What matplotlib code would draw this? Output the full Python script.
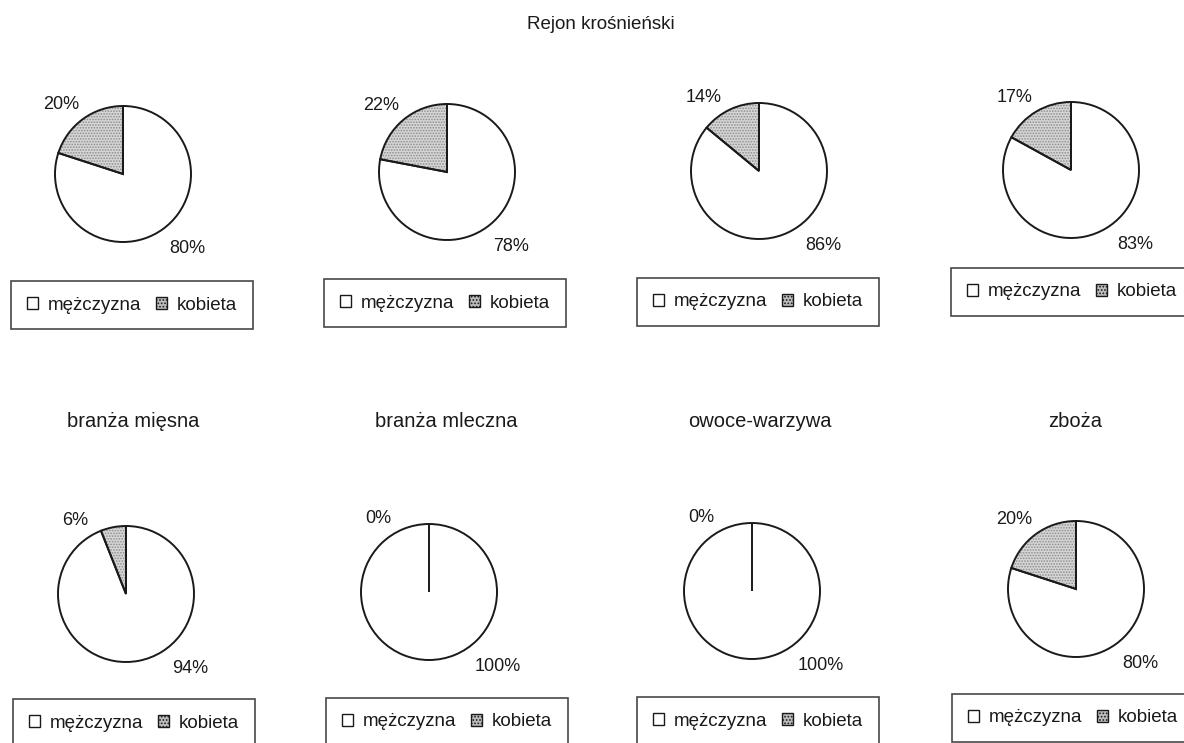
import numpy as np
import matplotlib
matplotlib.use("Agg")
import matplotlib.pyplot as plt
from matplotlib.patches import Patch

plt.rcParams['font.family'] = ['Liberation Sans', 'DejaVu Sans']
plt.rcParams['hatch.linewidth'] = 0.8

# data read from the scanned page
title = "Rejon krośnieński"
categories = ["branża mięsna", "branża mleczna", "owoce-warzywa", "zboża"]
series = ["mężczyzna", "kobieta"]
kobieta_top = [20, 22, 14, 17]
mezczyzna_top = [80, 78, 86, 83]
kobieta_bottom = [6, 0, 0, 20]
mezczyzna_bottom = [94, 100, 100, 80]

W, H = 1184, 743
R = 68
fig = plt.figure(figsize=(W / 100, H / 100), dpi=100)
fig.patch.set_facecolor('white')

# pixel layout of the page
top_centers = [(123, 174), (447, 172), (759, 171), (1071, 170)]
bot_centers = [(126, 594), (429, 592), (752, 591), (1076, 589)]
top_legends = [(132, 305), (445, 303), (758, 302), (1072, 292)]
bot_legends = [(134, 723), (447, 722), (758, 721), (1073, 718)]
title_x = [133, 446, 760, 1075]

ink = '#1a1a1a'
gray = '#d6d6d6'


def draw_pie(center, kob, mez):
    cx, cy = center
    ax = fig.add_axes([(cx - R) / W, (H - cy - R) / H, 2 * R / W, 2 * R / H])
    vals = [kob, mez]
    # dotted grey fill
    ax.pie(vals, colors=[gray, 'white'], startangle=90, counterclock=True,
           hatch=['......', None],
           wedgeprops=dict(edgecolor='#8c8c8c', linewidth=0))
    # outline
    ax.pie(vals, colors=['none', 'none'], startangle=90, counterclock=True,
           wedgeprops=dict(edgecolor=ink, linewidth=1.4))
    ax.set_xlim(-1, 1)
    ax.set_ylim(-1, 1)
    ax.axis('off')

    # labels placed like the spreadsheet did it
    mid_k = 90 + kob * 3.6 / 2
    a = np.radians(max(mid_k, 120))
    ax.text(1.1 * np.cos(a), 1.1 * np.sin(a), f"{kob}%", ha='right',
            va='bottom', fontsize=13, color=ink)
    a = np.radians(-55)
    ax.text(1.18 * np.cos(a), 1.18 * np.sin(a), f"{mez}%", ha='left',
            va='top', fontsize=13, color=ink)


def draw_legend(pos):
    x, y = pos
    handles = [Patch(facecolor='white', edgecolor=ink, linewidth=1.0),
               Patch(facecolor='#bdbdbd', edgecolor=ink, linewidth=1.0,
                     hatch='.....')]
    leg = fig.legend(handles, series, loc='center', ncol=2,
                     bbox_to_anchor=(x / W, 1 - y / H), fontsize=13.5,
                     frameon=True, fancybox=False, edgecolor=ink,
                     handlelength=0.6, handleheight=0.6, handletextpad=0.5,
                     columnspacing=0.8, borderpad=0.85, borderaxespad=0,
                     labelcolor=ink)
    leg.get_frame().set_linewidth(1.2)


for c, k, m in zip(top_centers, kobieta_top, mezczyzna_top):
    draw_pie(c, k, m)
for c, k, m in zip(bot_centers, kobieta_bottom, mezczyzna_bottom):
    draw_pie(c, k, m)
for p in top_legends + bot_legends:
    draw_legend(p)

fig.text(601 / W, 1 - 29 / H, title, ha='center', va='baseline',
         fontsize=13.5, color=ink)
for x, name in zip(title_x, categories):
    fig.text(x / W, 1 - 427 / H, name, ha='center', va='baseline',
             fontsize=14.5, color=ink)

fig.savefig('out.png', dpi=100, facecolor='white')
